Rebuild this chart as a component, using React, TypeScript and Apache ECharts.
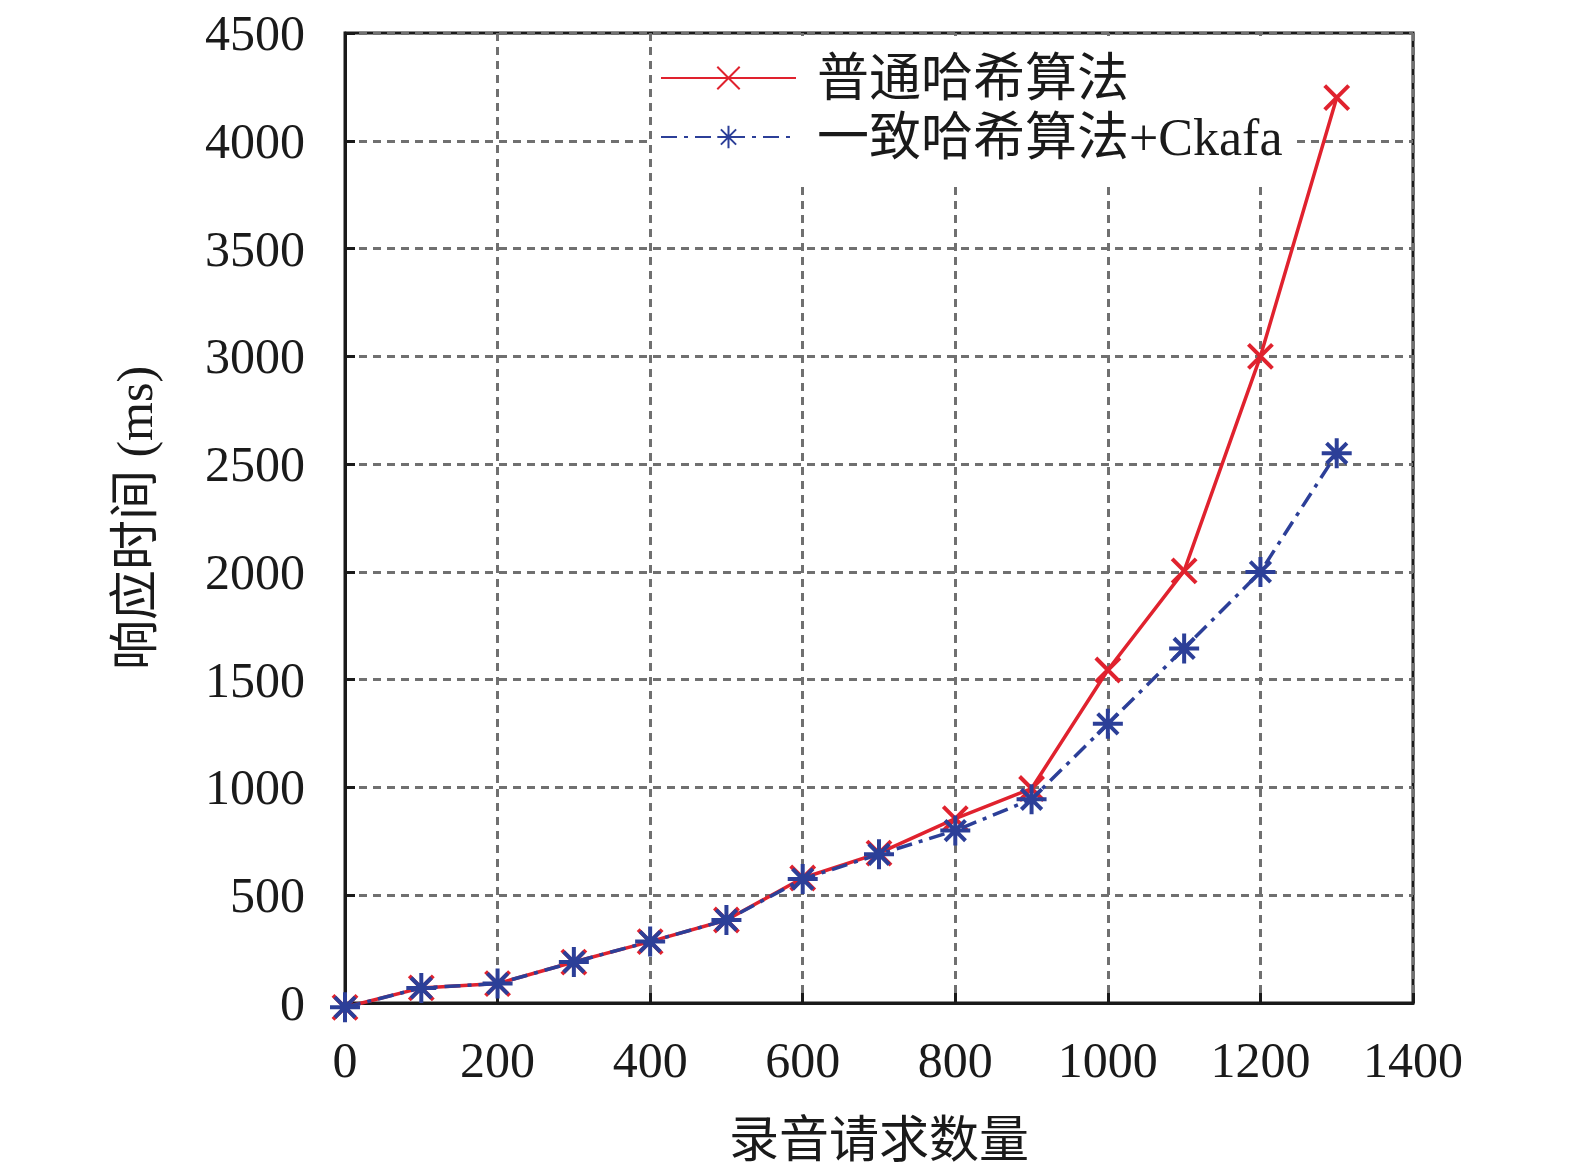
import React, { useEffect, useRef } from "react";
import * as echarts from "echarts";

const xValues = [0, 100, 200, 300, 400, 500, 600, 700, 800, 900, 1000, 1100, 1200, 1300];
const normalHash = [-20, 70, 90, 190, 285, 385, 580, 695, 855, 995, 1545, 2005, 3000, 4200];
const consistentHashCkafa = [-20, 70, 90, 190, 285, 385, 575, 690, 800, 945, 1295, 1645, 2000, 2550];
const seriesNames = ["普通哈希算法", "一致哈希算法+Ckafa"];
const xAxisTitle = "录音请求数量";
const yAxisTitle = "响应时间 (ms)";

const FONT = "'Liberation Serif', 'Times New Roman', 'Noto Sans CJK SC', serif";
const RED = "#e0222e";
const BLUE = "#2c3f98";
const CROSS = "path://M0,0L10,10M10,0L0,10";
const STAR = "path://M5,0L5,10M0,5L10,5M1.6,1.6L8.4,8.4M8.4,1.6L1.6,8.4";

export default function App() {
  const ref = useRef<HTMLDivElement>(null);
  useEffect(() => {
    if (!ref.current) return;
    const chart = echarts.init(ref.current, undefined, { renderer: "svg" });
    const pairs = (ys: number[]) => xValues.map((x, i) => [x, ys[i]]);
    const plain = (v: number) => String(v);
    chart.setOption({
      animation: false,
      backgroundColor: "#ffffff",
      grid: {
        left: 345,
        right: 162,
        top: 33,
        bottom: 170,
        outerBoundsMode: "none",
        containLabel: false,
        show: true,
        borderColor: "#1a1a1a",
        borderWidth: 3,
        backgroundColor: "transparent",
      },
      legend: {
        data: seriesNames,
        orient: "vertical",
        left: 652,
        top: 36,
        padding: [16, 14, 20, 8],
        backgroundColor: "#ffffff",
        itemWidth: 135,
        itemHeight: 28,
        itemGap: 7,
        selectedMode: false,
        textStyle: { fontFamily: FONT, fontSize: 52, color: "#1a1a1a", padding: [0, 0, 0, 16] },
      },
      xAxis: {
        type: "value",
        min: 0,
        max: 1400,
        interval: 200,
        name: xAxisTitle,
        nameLocation: "middle",
        nameGap: 112,
        nameTextStyle: { fontFamily: FONT, fontSize: 50, color: "#1a1a1a" },
        axisLine: { show: true, lineStyle: { color: "#1a1a1a", width: 3 } },
        axisTick: { show: true, inside: true, length: 10, lineStyle: { color: "#1a1a1a", width: 3 } },
        axisLabel: { fontFamily: FONT, fontSize: 50, color: "#1a1a1a", margin: 32, formatter: plain },
        splitLine: { show: true, lineStyle: { color: "#707070", width: 3, type: [8, 6] } },
      },
      yAxis: {
        type: "value",
        min: 0,
        max: 4500,
        interval: 500,
        name: yAxisTitle,
        nameLocation: "middle",
        nameGap: 185,
        nameTextStyle: { fontFamily: FONT, fontSize: 50, color: "#1a1a1a" },
        axisLine: { show: true, lineStyle: { color: "#1a1a1a", width: 3 } },
        axisTick: { show: true, inside: true, length: 10, lineStyle: { color: "#1a1a1a", width: 3 } },
        axisLabel: { fontFamily: FONT, fontSize: 50, color: "#1a1a1a", margin: 40, formatter: plain },
        splitLine: { show: true, lineStyle: { color: "#707070", width: 3, type: [8, 6] } },
      },
      series: [
        {
          name: seriesNames[0],
          type: "line",
          data: pairs(normalHash),
          clip: false,
          symbol: CROSS,
          symbolSize: 24,
          lineStyle: { color: RED, width: 3.5 },
          itemStyle: { color: RED, borderColor: RED, borderWidth: 4 },
          z: 6,
        },
        {
          name: seriesNames[1],
          type: "line",
          data: pairs(consistentHashCkafa),
          clip: false,
          symbol: STAR,
          symbolSize: 30,
          lineStyle: { color: BLUE, width: 3.5, type: [16, 7, 4, 7] },
          itemStyle: { color: BLUE, borderColor: BLUE, borderWidth: 4 },
          z: 7,
        },
      ],
    });
    return () => chart.dispose();
  }, []);
  return (
    <div
      ref={ref}
      style={{ position: "fixed", left: 0, top: 0, width: 1575, height: 1173, background: "#fff" }}
    />
  );
}
